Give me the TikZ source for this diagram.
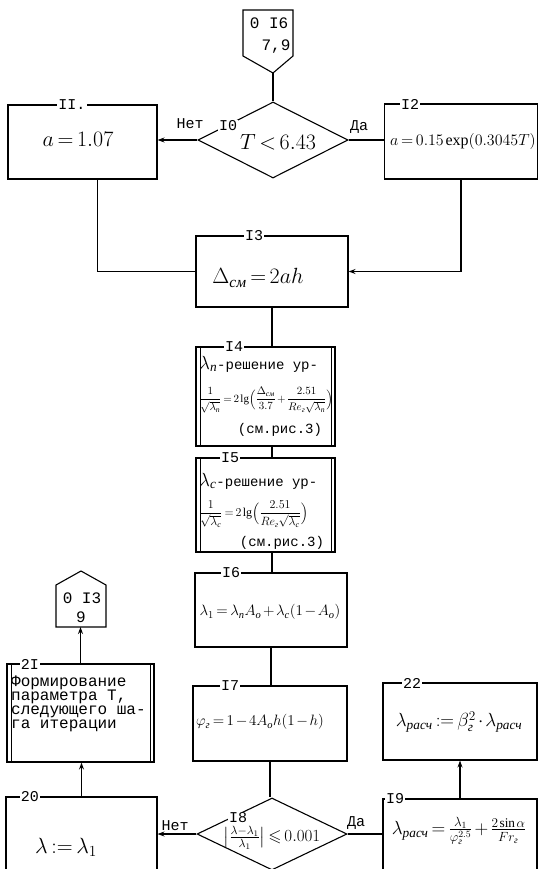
\RequirePackage{fix-cm}
\documentclass[tikz,border=0pt]{standalone}
\usepackage{amsmath,amssymb}
\usepackage{fontspec}
\setmainfont{Liberation Serif}
\setmonofont{Liberation Mono}
\usetikzlibrary{shapes.geometric,arrows.meta}
\newcommand{\rus}[1]{\text{\rmfamily\itshape #1}}

\tikzset{
  flow/.style={line width=1.1pt},
  arr/.style={flow, -{Stealth[length=7pt,width=5pt]}},
  blk/.style={draw, line width=1.1pt, inner sep=0pt},
  predef/.style={blk, path picture={
      \draw[line width=0.8pt] ([xshift=4pt]path picture bounding box.north west) -- ([xshift=4pt]path picture bounding box.south west);
      \draw[line width=0.8pt] ([xshift=-4pt]path picture bounding box.north east) -- ([xshift=-4pt]path picture bounding box.south east);}},
  dec/.style={draw, diamond, line width=1.1pt, inner sep=0pt},
  tt/.style={inner sep=0pt, font=\fontsize{16}{16}\ttfamily},
  numlab/.style={fill=white, inner sep=1pt, font=\fontsize{15}{15}\ttfamily},
  yn/.style={inner sep=0pt, font=\fontsize{15}{15}\ttfamily},
  tight/.style={inner sep=0pt, execute at begin node={\thinmuskip=2mu\medmuskip=2mu\thickmuskip=3mu}},
  frm/.style={tight, font=\fontsize{22}{24}\selectfont},
  frmm/.style={tight, font=\fontsize{16}{18}\selectfont},
  frms/.style={tight, font=\fontsize{11}{12}\selectfont},
}

\begin{document}
\begin{tikzpicture}[x=1pt,y=-1pt]
    \useasboundingbox (0,0) rectangle (540,869);

    %off-page connector, top
    \draw[flow] (243,10) -- (293,10) -- (293,56) -- (273,73) -- (243,56) -- cycle;
    \coordinate (c0) at (273,73);
    \node[tt] (c0a) at (269,23) {0 I6};
    \node[tt] (c0b) at (276,47) {7,9};

    %decision 10
    \node[dec, minimum width=150pt, minimum height=76pt] (d10) at (273,140) {};
    \node[frm] (t10) at (278,142) {$T<6.43$};
    \node[numlab] (l10) at (228,126) {I0};

    %blocks 11, 12
    \node[blk, minimum width=149pt, minimum height=74pt] (b11) at (82.5,142) {};
    \node[frm] (t11) at (78,139) {$a=1.07$};
    \node[numlab] (l11) at (72,105) {II.};

    \node[blk, minimum width=153pt, minimum height=75pt] (b12) at (461,141.5) {};
    \node[frmm] (t12) at (463,142) {$a=0.15\exp(0.3045T)$};
    \node[numlab] (l12) at (410,104) {I2};

    %block 13
    \node[blk, minimum width=152pt, minimum height=71pt] (b13) at (272,271.5) {};
    \node[frm] (t13) at (258,278) {$\Delta_{\rus{см}}=2ah$};
    \node[numlab] (l13) at (254,236) {I3};

    %blocks 14, 15
    \node[predef, minimum width=139pt, minimum height=99pt] (b14) at (265.5,396.5) {};
    \node[numlab] (l14) at (234,347) {I4};
    \node[anchor=west, inner sep=0pt, font=\fontsize{14}{14}\ttfamily] (t14a) at (199,364)
        {{\fontsize{19}{19}\selectfont$\lambda_{\rus{п}}$}-решение ур-};
    \node[frms, anchor=west] (t14b) at (199,400)
        {$\dfrac{1}{\sqrt{\lambda_{\rus{п}}}}=2\lg\Bigl(\dfrac{\Delta_{\rus{см}}}{3.7}+\dfrac{2.51}{Re_{\rus{г}}\sqrt{\lambda_{\rus{п}}}}\Bigr)$};
    \node[inner sep=0pt, font=\fontsize{14}{14}\ttfamily] (t14c) at (280,430) {(см.рис.3)};

    \node[predef, minimum width=139pt, minimum height=94pt] (b15) at (265.5,505) {};
    \node[numlab] (l15) at (230,458) {I5};
    \node[anchor=west, inner sep=0pt, font=\fontsize{14}{14}\ttfamily] (t15a) at (199,481)
        {{\fontsize{19}{19}\selectfont$\lambda_{\rus{с}}$}-решение ур-};
    \node[frms, anchor=west, font=\fontsize{12}{13}\selectfont] (t15b) at (199,514)
        {$\dfrac{1}{\sqrt{\lambda_{\rus{с}}}}=2\lg\Bigl(\dfrac{2.51}{Re_{\rus{г}}\sqrt{\lambda_{\rus{с}}}}\Bigr)$};
    \node[inner sep=0pt, font=\fontsize{14}{14}\ttfamily] (t15c) at (282,543) {(см.рис.3)};

    %blocks 16, 17
    \node[blk, minimum width=152pt, minimum height=74pt] (b16) at (271,610) {};
    \node[frmm, font=\fontsize{15}{17}\selectfont] (t16) at (270,612) {$\lambda_1=\lambda_{\rus{п}}A_{\rus{о}}+\lambda_{\rus{с}}(1-A_{\rus{о}})$};
    \node[numlab] (l16) at (231,573) {I6};

    \node[blk, minimum width=154pt, minimum height=75pt] (b17) at (270,723.5) {};
    \node[frmm, font=\fontsize{15}{17}\selectfont] (t17) at (260,722) {$\varphi_{\rus{г}}=1-4A_{\rus{о}}h(1-h)$};
    \node[numlab] (l17) at (230,686) {I7};

    %decision 18
    \node[dec, minimum width=150pt, minimum height=72pt] (d18) at (272,834) {};
    \node[frmm, font=\fontsize{17}{18}\selectfont] (t18) at (272,838) {$\bigl|\tfrac{\lambda-\lambda_1}{\lambda_1}\bigr|\leqslant0.001$};
    \node[numlab] (l18) at (238,818) {I8};

    %left branch: 20, 21
    \node[blk, minimum width=151pt, minimum height=88pt] (b20) at (81.5,841) {};
    \node[frm] (t20) at (66,847) {$\lambda:=\lambda_1$};
    \node[numlab] (l20) at (30,797) {20};

    \node[predef, minimum width=147pt, minimum height=98pt] (b21) at (80.5,713) {};
    \node[anchor=west, align=left, inner sep=0pt, font=\fontsize{16}{14}\ttfamily] (t21) at (11,704)
        {Формирование\\параметра Т,\\следующего ша-\\га итерации};
    \node[numlab] (l21) at (30,664) {2I};

    %off-page connector, left
    \draw[flow] (56,627) -- (106,627) -- (106,585) -- (81,571) -- (56,585) -- cycle;
    \coordinate (c21) at (81,627);
    \node[tt] (c21a) at (82,598) {0 I3};
    \node[tt] (c21b) at (81,617) {9};

    %right branch: 19, 22
    \node[blk, minimum width=154pt, minimum height=86pt] (b19) at (460,842) {};
    \node[frmm, font=\fontsize{19}{20}\selectfont] (t19) at (459,831) {$\lambda_{\rus{расч}}=\tfrac{\lambda_1}{\varphi_{\rus{г}}^{2.5}}+\tfrac{2\sin\alpha}{Fr_{\rus{г}}}$};
    \node[numlab] (l19) at (395,799) {I9};

    \node[blk, minimum width=154pt, minimum height=77pt] (b22) at (460,721.5) {};
    \node[frmm, font=\fontsize{19}{20}\selectfont] (t22) at (459,722) {$\lambda_{\rus{расч}}:=\beta_{\rus{г}}^2\cdot\lambda_{\rus{расч}}$};
    \node[numlab] (l22) at (412,683) {22};

    %connectors
    \draw[flow] (c0) -- (d10.north);
    \draw[arr] (d10.west) -- (d10.west -| b11.east);
    \node[yn] (n10) at (190,124) {Нет};
    \draw[flow] (d10.east) -- (d10.east -| b12.west);
    \node[yn] (y10) at (359,127) {Да};
    \draw[flow] ([xshift=15pt]b11.south) |- (b13.west);
    \draw[arr] (b12.south) |- (b13.east);
    \draw[flow] (b13.south) -- (b13.south |- b14.north);
    \draw[flow] (b13.south |- b14.south) -- (b13.south |- b15.north);
    \draw[flow] (b13.south |- b15.south) -- (b13.south |- b16.north);
    \draw[flow] (b16.south) -- (b16.south |- b17.north);
    \draw[flow] (b17.south) -- (b17.south |- d18.north);
    \draw[arr] (d18.west) -- (d18.west -| b20.east);
    \node[yn] (n18) at (175,826) {Нет};
    \draw[flow] (d18.east) -- (d18.east -| b19.west);
    \node[yn] (y18) at (356,823) {Да};
    \draw[arr] (b20.north) -- (b20.north |- b21.south);
    \draw[arr] (b21.north) -- (b21.north |- c21);
    \draw[arr] (b19.north) -- (b19.north |- b22.south);
\end{tikzpicture}
\end{document}
